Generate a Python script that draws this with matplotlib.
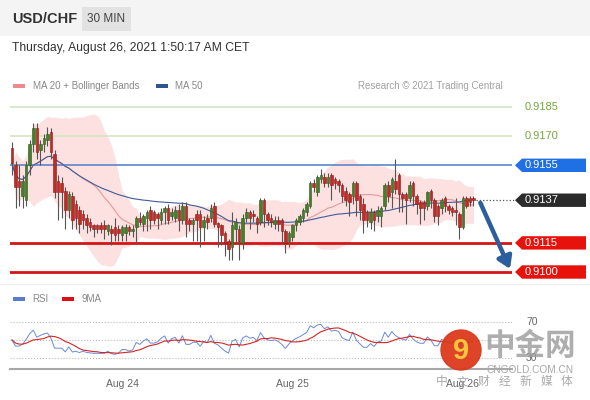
import matplotlib.pyplot as plt
import matplotlib.transforms as mtrans
import numpy as np
import pandas as pd
from matplotlib.patches import Polygon, Rectangle, Circle

plt.rcParams['font.family'] = ['Liberation Sans', 'Noto Sans CJK SC', 'DejaVu Sans']

# 30 min candles, Aug 23 08:30 -> Aug 26 01:30
opens = [.9164, .9155, .9147, .9139, .9137, .9155, .9166, .9174, .9163, .9166,
         .9168, .9172, .9161, .9147, .9146, .9142, .9132, .9139, .9135, .9132,
         .9130, .9128, .9126, .9124, .9124, .9124, .9124, .9121, .9122, .9123,
         .9122, .9119, .9120, .9123, .9121, .9123, .9128, .9125, .9128, .9132,
         .9131, .9130, .9127, .9131, .9133, .9129, .9128, .9132, .9127, .9134,
         .9127, .9125, .9130, .9130, .9123, .9128, .9128, .9134, .9125, .9124,
         .9120, .9116, .9113, .9122, .9122, .9115, .9128, .9131, .9130, .9128,
         .9126, .9137, .9130, .9128, .9125, .9127, .9127, .9121, .9116, .9118,
         .9124, .9126, .9128, .9131, .9134, .9146, .9141, .9148, .9149, .9146,
         .9150, .9148, .9147, .9145, .9142, .9140, .9139, .9146, .9139, .9135,
         .9131, .9126, .9131, .9129, .9129, .9134, .9145, .9141, .9147, .9150,
         .9140, .9140, .9138, .9146, .9139, .9136, .9136, .9134, .9142, .9137,
         .9134, .9133, .9138, .9134, .9133, .9132, .9130, .9123, .9138, .9138,
         .9138]
closes = [.9156, .9144, .9144, .9147, .9155, .9166, .9174, .9162, .9166, .9169,
          .9171, .9162, .9141, .9141, .9141, .9132, .9140, .9127, .9128, .9125,
          .9127, .9124, .9123, .9122, .9122, .9122, .9122, .9124, .9120, .9119,
          .9120, .9123, .9123, .9121, .9122, .9128, .9126, .9129, .9131, .9127,
          .9127, .9128, .9131, .9133, .9127, .9131, .9132, .9127, .9134, .9125,
          .9125, .9127, .9127, .9123, .9127, .9126, .9133, .9125, .9123, .9119,
          .9115, .9112, .9124, .9126, .9116, .9128, .9131, .9128, .9129, .9125,
          .9137, .9130, .9127, .9126, .9127, .9125, .9121, .9115, .9120, .9124,
          .9127, .9129, .9132, .9135, .9146, .9144, .9149, .9150, .9146, .9149,
          .9145, .9146, .9145, .9139, .9137, .9136, .9146, .9137, .9132, .9127,
          .9127, .9131, .9127, .9132, .9133, .9145, .9139, .9148, .9143, .9140,
          .9138, .9137, .9145, .9139, .9135, .9133, .9133, .9141, .9137, .9129,
          .9129, .9137, .9134, .9132, .9131, .9131, .9123, .9138, .9134, .9136,
          .9137]
highs = [.9167, .9157, .9155, .9150, .9157, .9168, .9177, .9177, .9168, .9171,
         .9175, .9174, .9163, .9150, .9149, .9144, .9142, .9141, .9137, .9134,
         .9132, .9130, .9128, .9125, .9125, .9126, .9127, .9125, .9124, .9128,
         .9124, .9124, .9125, .9124, .9124, .9129, .9131, .9130, .9132, .9134,
         .9132, .9131, .9133, .9134, .9135, .9133, .9134, .9135, .9136, .9136,
         .9128, .9128, .9132, .9132, .9129, .9130, .9135, .9136, .9126, .9125,
         .9121, .9117, .9131, .9128, .9124, .9130, .9133, .9132, .9132, .9129,
         .9138, .9138, .9131, .9130, .9129, .9129, .9128, .9122, .9121, .9125,
         .9128, .9130, .9133, .9136, .9147, .9148, .9150, .9153, .9151, .9151,
         .9151, .9149, .9148, .9146, .9144, .9141, .9147, .9147, .9140, .9138,
         .9132, .9133, .9132, .9134, .9134, .9146, .9147, .9149, .9158, .9151,
         .9141, .9141, .9147, .9147, .9140, .9137, .9137, .9142, .9143, .9138,
         .9135, .9138, .9139, .9135, .9134, .9138, .9131, .9139, .9139, .9139,
         .9139]
lows = [.9150, .9133, .9134, .9133, .9134, .9150, .9162, .9158, .9155, .9162,
        .9165, .9158, .9138, .9127, .9128, .9122, .9128, .9122, .9122, .9120,
        .9122, .9120, .9121, .9118, .9120, .9120, .9117, .9119, .9114, .9116,
        .9116, .9116, .9116, .9119, .9118, .9115, .9124, .9121, .9121, .9122,
        .9125, .9122, .9125, .9125, .9125, .9127, .9126, .9121, .9125, .9118,
        .9121, .9116, .9116, .9113, .9116, .9122, .9126, .9123, .9113, .9114,
        .9108, .9106, .9106, .9115, .9106, .9112, .9126, .9122, .9126, .9120,
        .9124, .9123, .9124, .9123, .9122, .9121, .9115, .9110, .9113, .9116,
        .9121, .9124, .9126, .9129, .9133, .9141, .9139, .9146, .9144, .9144,
        .9137, .9143, .9141, .9136, .9134, .9129, .9135, .9129, .9127, .9120,
        .9123, .9122, .9121, .9126, .9123, .9132, .9136, .9133, .9140, .9131,
        .9131, .9125, .9136, .9134, .9130, .9125, .9127, .9132, .9133, .9126,
        .9124, .9130, .9131, .9130, .9129, .9124, .9117, .9122, .9133, .9134,
        .9134]

day_ticks = [31, 79, 127]
day_labels = ['Aug 24', 'Aug 25', 'Aug 26']

resistances = [0.9185, 0.9170]
pivot = 0.9155
last_price = 0.9137
supports = [0.9115, 0.9100]
target = 0.9100
rsi_marks = [70, 50, 30]

# indicators
s = pd.Series(closes)
ma20 = s.rolling(20, min_periods=1).mean()
sd20 = s.rolling(20, min_periods=1).std(ddof=0)
ma50 = s.rolling(50, min_periods=1).mean()
delta = s.diff()
up_mv = delta.clip(lower=0)
dn_mv = -delta.clip(upper=0)
# neutral seed so the first bars don't swing to 0/100
up_mv.iloc[0] = dn_mv.iloc[0] = 0.0003
gain = up_mv.ewm(alpha=1 / 14, adjust=False).mean()
loss = dn_mv.ewm(alpha=1 / 14, adjust=False).mean()
rsi = 100 - 100 / (1 + gain / loss)
rsi_ma = rsi.rolling(9, min_periods=1).mean()

x = np.arange(len(closes))
W, H = 590, 400
fig = plt.figure(figsize=(W / 100, H / 100), dpi=100)

# pixel overlay for header / legends
bg = fig.add_axes([0, 0, 1, 1])
bg.set_xlim(0, W)
bg.set_ylim(H, 0)
bg.axis('off')
bg.add_patch(Rectangle((0, 0), W, 36, color='#f4f4f4', lw=0))
bg.plot([0, W], [284, 284], color='#ececec', lw=1)
bg.text(12, 19, 'USD/CHF', fontsize=10.5, fontweight='bold', color='#333333', va='center')
bg.add_patch(Rectangle((82, 7), 49, 24, color='#e2e2e2', lw=0))
bg.text(106.5, 19, '30 MIN', fontsize=8.5, color='#444444', va='center', ha='center')
bg.text(12, 48, 'Thursday, August 26, 2021 1:50:17 AM CET', fontsize=8.7,
        color='#333333', va='center')
bg.add_patch(Rectangle((13, 84), 12, 4, color='#ef8a8a', lw=0))
bg.text(33, 86, 'MA 20 + Bollinger Bands', fontsize=7, color='#888888', va='center')
bg.add_patch(Rectangle((156, 84), 12, 4, color='#2f5590', lw=0))
bg.text(175, 86, 'MA 50', fontsize=7, color='#888888', va='center')
bg.text(503, 86, 'Research \u00a9 2021 Trading Central', fontsize=7, color='#a0a0a0',
        va='center', ha='right')
bg.add_patch(Rectangle((13, 297), 12, 4, color='#5a7ccf', lw=0))
bg.text(32, 299, 'RSI', fontsize=7, color='#888888', va='center')
bg.add_patch(Rectangle((62, 297), 12, 4, color='#dd1111', lw=0))
bg.text(82, 299, '9MA', fontsize=7, color='#888888', va='center')

# price panel
ppx = 1 / 19400
top_px, bot_px = 95, 282
ax = fig.add_axes([10 / W, (H - bot_px) / H, 502 / W, (bot_px - top_px) / H])
ax.set_xlim(-0.56, 140.85)
ax.set_ylim(0.9100 - (bot_px - 272) * ppx, 0.9100 + (272 - top_px) * ppx)
ax.axis('off')

ax.fill_between(x, ma20 + 2 * sd20, ma20 - 2 * sd20, color='#fde0e0', lw=0, zorder=1)
ax.plot(x, ma20, color='#e89a9a', lw=0.8, zorder=2)
ax.plot(x, ma50, color='#3f5c9a', lw=0.8, zorder=2)

for r in resistances:
    ax.axhline(r, color='#d5e4c3', lw=1.2, zorder=1)
ax.axhline(pivot, color='#5b86c9', lw=1.2, zorder=1)
for sp in supports:
    ax.axhline(sp, color='#d51515', lw=2, zorder=1)

up = np.array(closes) >= np.array(opens)
body_lo = np.minimum(opens, closes)
body_h = np.maximum(np.abs(np.array(closes) - np.array(opens)), 0.00003)
ax.vlines(x, lows, highs, color='#555555', lw=0.8, zorder=3)
ax.bar(x, body_h, bottom=body_lo, width=0.72,
       color=np.where(up, '#467f2c', '#c22a25'),
       edgecolor=np.where(up, '#2f5a1c', '#8e1a17'), lw=0.4, zorder=4)

# right hand labels
tr = mtrans.blended_transform_factory(ax.transAxes, ax.transData)
fx = lambda p: (p - 10) / 502
for r in resistances:
    ax.text(fx(525), r, f'{r:.4f}', transform=tr, color='#76a83c', fontsize=8,
            va='center', clip_on=False)
hh = 6.7 * ppx
for lv, col in [(pivot, '#1f6fe5'), (last_price, '#2b2b2b'),
                (supports[0], '#e8120c'), (supports[1], '#e8120c')]:
    ax.add_patch(Polygon([(fx(515), lv), (fx(522), lv + hh), (fx(586), lv + hh),
                          (fx(586), lv - hh), (fx(522), lv - hh)], closed=True,
                         color=col, lw=0, transform=tr, clip_on=False))
    ax.text(fx(525), lv, f'{lv:.4f}', transform=tr, color='white', fontsize=8,
            va='center', clip_on=False)
ax.plot([x[-1] + 0.6, 141.7], [last_price, last_price], ls=':', color='#555555',
        lw=0.9, clip_on=False)
ax.annotate('', xy=(140.6, target + 0.00003), xytext=(131.6, last_price),
            arrowprops=dict(arrowstyle='-|>,head_width=0.45,head_length=0.7',
                            color='#2c5d9c', lw=3.2), annotation_clip=False)

# rsi panel
rax = fig.add_axes([10 / W, (H - 369) / H, 502 / W, (369 - 310) / H])
rax.set_xlim(-0.56, 140.85)
rax.set_ylim(18.3, 82.8)
for lv in rsi_marks:
    rax.axhline(lv, color='#bbbbbb', ls=':', lw=0.8)
rax.plot(x, rsi, color='#6a8ad8', lw=0.7)
rax.plot(x, rsi_ma, color='#d42525', lw=0.8)
for sp in ['top', 'right', 'left']:
    rax.spines[sp].set_visible(False)
rax.spines['bottom'].set_color('#a8a8a8')
rax.spines['bottom'].set_linewidth(1.5)
rax.set_yticks([])
rax.set_xticks(day_ticks)
rax.set_xticklabels(day_labels, fontsize=7.5, color='#666666')
rax.tick_params(axis='x', length=0, pad=7)
rtr = mtrans.blended_transform_factory(rax.transAxes, rax.transData)
rax.text(fx(526), 70, '70', transform=rtr, fontsize=7.5, color='#666666',
         va='center', clip_on=False)
rax.text(fx(526), 30, '30', transform=rtr, fontsize=7.5, color='#666666',
         va='center', clip_on=False)

# watermark
wm = fig.add_axes([0, 0, 1, 1])
wm.set_xlim(0, W)
wm.set_ylim(H, 0)
wm.axis('off')
wm.add_patch(Circle((461, 350), 20, color='#dc3a1c', alpha=0.95))
wm.text(461, 351, '9', fontsize=21, fontweight='bold', color='#f6c53c',
        ha='center', va='center')
wm.text(530, 347, '中金网', fontsize=22, fontweight='bold', color='#9a9a9a',
        alpha=0.8, ha='center', va='center')
wm.text(530, 370, 'CNGOLD.COM.CN', fontsize=7.3, color='#a8a8a8', ha='center', va='center')
for k, ch in enumerate('中文财经新媒体'):
    wm.text(442 + k * 20.8, 382, ch, fontsize=8.5, color='#9a9a9a', alpha=0.85,
            ha='center', va='center')

fig.savefig('out.png', dpi=100)
